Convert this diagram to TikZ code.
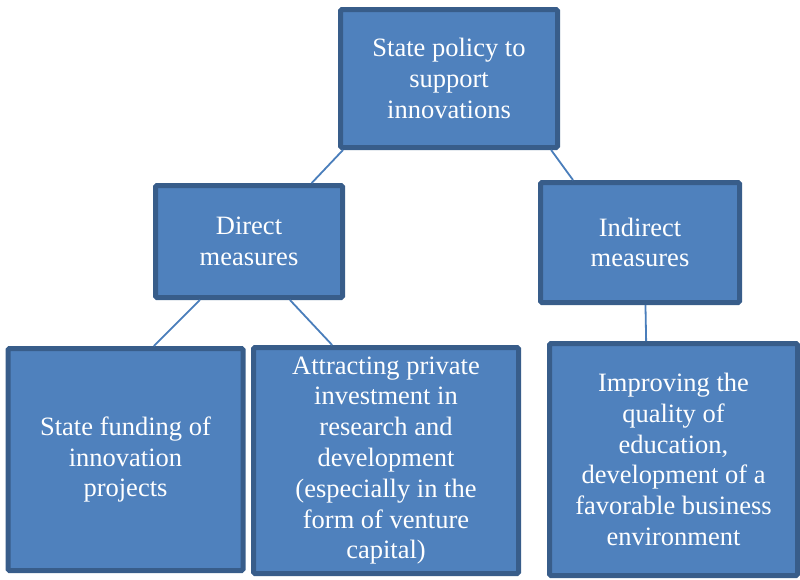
\documentclass[tikz,border=0pt]{standalone}
\usepackage{fontspec}
\setmainfont{Liberation Serif}
\definecolor{boxfill}{RGB}{79,129,189}
\definecolor{boxline}{RGB}{56,93,138}
\definecolor{linkcol}{RGB}{74,126,187}
\begin{document}
\begin{tikzpicture}[x=1pt,y=-1pt,
    block/.style={draw=boxline, fill=boxfill, line width=5pt, rounded corners=1.5pt,
        text=white, align=center, inner sep=2pt, font=\fontsize{26.5}{30.8}\selectfont},
    link/.style={draw=linkcol, line width=1.8pt}]
\useasboundingbox (0,0) rectangle (800,579);
\node[block, minimum width=217pt, minimum height=138pt] (policy) at (449,78.5) {State policy to\\support\\innovations};
\node[block, minimum width=187pt, minimum height=112pt] (direct) at (249,241.5) {Direct\\measures};
\node[block, minimum width=199pt, minimum height=120pt] (indirect) at (640,242.5) {Indirect\\measures};
\node[block, minimum width=235pt, minimum height=222pt] (funding) at (125.5,459.5) {State funding of\\innovation\\projects};
\node[block, minimum width=265pt, minimum height=226pt] (private) at (386,460.5) {Attracting private\\investment in\\research and\\development\\(especially in the\\form of venture\\capital)};
\node[block, minimum width=248pt, minimum height=232pt] (climate) at (673.5,459.5) {Improving the\\quality of\\education,\\development of a\\favorable business\\environment};
% connectors
\draw[link] (policy.214) -- (direct.43);
\draw[link] (policy.325.5) -- (indirect.137.6);
\draw[link] (direct.230) -- (funding.76.8);
\draw[link] (direct.305.7) -- (private.115.2);
\draw[link] (indirect.275.5) -- (climate.103.1);
\end{tikzpicture}
\end{document}
